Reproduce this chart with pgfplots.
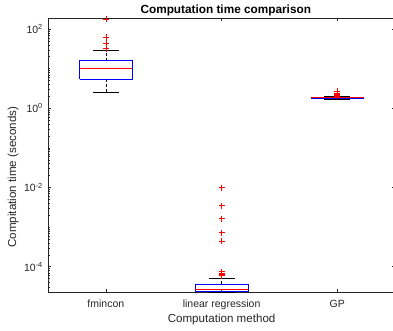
\documentclass[border=0pt]{standalone}
\usepackage{pgfplots}
\pgfplotsset{compat=1.18}
\usepackage{fontspec}
\setmainfont{Liberation Sans}
\definecolor{axgray}{gray}{0.15}
\pgfplotsset{
  bx/.style={draw=blue, line width=0.6pt, no marks},
  md/.style={draw=red, line width=0.6pt, no marks},
  wk/.style={draw=black, line width=0.6pt, no marks, dash pattern=on 3bp off 2bp},
  cp/.style={draw=black, line width=0.6pt, no marks},
  ol/.style={red, only marks, mark=+, mark size=3bp, mark options={draw=red, solid, line width=0.6pt}},
}
\begin{document}
\begin{tikzpicture}
\begin{axis}[
  scale only axis,
  width=347.2bp, height=274.3bp,
  xmin=0.5, xmax=3.5,
  ymode=log, ymin=2.26e-5, ymax=190,
  clip=false,
  axis line style={axgray, line width=0.6pt},
  tick style={axgray, line width=0.5pt},
  major tick length=3.5bp, minor tick length=2bp,
  xtick={1,2,3},
  xticklabels={fmincon,linear regression,GP},
  ytick={1e-4,1e-2,1,100},
  yticklabels={10\textsuperscript{-4},10\textsuperscript{-2},10\textsuperscript{0},10\textsuperscript{2}},
  minor ytick={3e-5,4e-5,5e-5,6e-5,7e-5,8e-5,9e-5,
    2e-4,3e-4,4e-4,5e-4,6e-4,7e-4,8e-4,9e-4,
    1e-3,2e-3,3e-3,4e-3,5e-3,6e-3,7e-3,8e-3,9e-3,
    2e-2,3e-2,4e-2,5e-2,6e-2,7e-2,8e-2,9e-2,
    1e-1,2e-1,3e-1,4e-1,5e-1,6e-1,7e-1,8e-1,9e-1,
    2,3,4,5,6,7,8,9,
    10,20,30,40,50,60,70,80,90},
  ticklabel style={font=\fontsize{10.5bp}{12bp}\selectfont, text=axgray},
  xticklabel style={anchor=base, yshift=-15.5bp},
  yticklabel style={anchor=east, inner sep=0pt, xshift=-5bp},
  xlabel={Computation method},
  ylabel={Compitation time (seconds)},
  xlabel style={font=\fontsize{11.6bp}{13bp}\selectfont, text=axgray, at={(axis description cs:0.5,-0.0984)}, anchor=center},
  ylabel style={font=\fontsize{11.6bp}{13bp}\selectfont, text=axgray, at={(axis description cs:-0.1003,0.42)}, anchor=center},
  title={Computation time comparison},
  title style={font=\bfseries\fontsize{11.8bp}{13bp}\selectfont, at={(axis description cs:0.512,1.0074)}, anchor=center},
]
% ---------- fmincon (x = 1) ----------
\addplot[wk] coordinates {(1,16.0) (1,28.3)};
\addplot[wk] coordinates {(1,5.46) (1,2.52)};
\addplot[cp] coordinates {(0.8875,28.3) (1.1125,28.3)};
\addplot[cp] coordinates {(0.8875,2.52) (1.1125,2.52)};
\addplot[bx] coordinates {(0.7725,5.46) (1.2275,5.46) (1.2275,16.0) (0.7725,16.0) (0.7725,5.46)};
\addplot[md] coordinates {(0.7725,10.5) (1.2275,10.5)};
\addplot[ol] coordinates {(1,31.8) (1,43.5) (1,62.8) (1,179)};
% ---------- linear regression (x = 2) ----------
\addplot[wk] coordinates {(2,3.6e-5) (2,5.1e-5)};
\addplot[cp] coordinates {(1.8875,5.1e-5) (2.1125,5.1e-5)};
\addplot[cp] coordinates {(1.8875,2.26e-5) (2.1125,2.26e-5)};
\addplot[bx] coordinates {(1.7725,2.43e-5) (2.2275,2.43e-5) (2.2275,3.6e-5) (1.7725,3.6e-5) (1.7725,2.43e-5)};
\addplot[md] coordinates {(1.7725,2.62e-5) (2.2275,2.62e-5)};
\addplot[ol] coordinates {(2,6.0e-5) (2,6.3e-5) (2,6.6e-5) (2,7.0e-5) (2,7.5e-5) (2,4.45e-4) (2,7.2e-4) (2,1.63e-3) (2,3.47e-3) (2,9.9e-3)};
% ---------- GP (x = 3) ----------
\addplot[wk] coordinates {(3,1.87) (3,1.97)};
\addplot[wk] coordinates {(3,1.81) (3,1.70)};
\addplot[cp] coordinates {(2.8875,1.97) (3.1125,1.97)};
\addplot[cp] coordinates {(2.8875,1.70) (3.1125,1.70)};
\addplot[bx] coordinates {(2.7725,1.81) (3.2275,1.81) (3.2275,1.87) (2.7725,1.87) (2.7725,1.81)};
\addplot[md] coordinates {(2.7725,1.84) (3.2275,1.84)};
\addplot[ol] coordinates {(3,2.02) (3,2.12) (3,2.25) (3,2.42) (3,2.75)};
\end{axis}
\pgfresetboundingbox
\path (-48bp,-38.7bp) rectangle (345bp,292.3bp);
\end{tikzpicture}
\end{document}
